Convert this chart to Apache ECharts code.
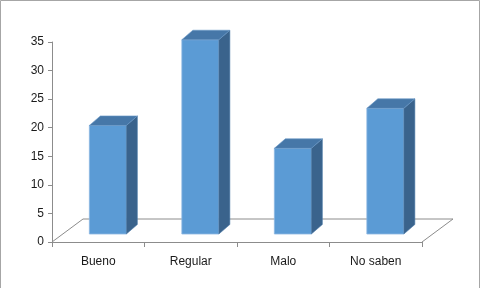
<!DOCTYPE html>
<html>
<head>
<meta charset="utf-8">
<script src="https://cdn.jsdelivr.net/npm/echarts@6/dist/echarts.min.js"></script>
<style>
html,body{margin:0;padding:0;background:#fff;}
#chart{width:481px;height:288px;}
</style>
</head>
<body>
<div id="chart"></div>
<script>
const categories = ['Bueno', 'Regular', 'Malo', 'No saben'];
const values = [19, 34, 15, 22];
const yTicks = { min: 0, max: 35, interval: 5 };

const chart = echarts.init(document.getElementById('chart'), null, { renderer: 'canvas' });

// 3D projection constants (pixels)
const FLOOR_DX = 31, FLOOR_DY = -23;
const BAR_OX = 9.6, BAR_OY = -8;
const BAR_DX = 11, BAR_DY = -9.5;
const BAR_FRAC = 0.4;

const barData = values.map((v, i) => [i, v]);

function renderBar(params, api) {
  const cat = api.value(0), val = api.value(1);
  const base = api.coord([cat, 0]);
  const top = api.coord([cat, val]);
  const bw = api.size([1, 0])[0] * BAR_FRAC;
  const x0 = base[0] - bw / 2 + BAR_OX, x1 = x0 + bw;
  const yb = base[1] + BAR_OY, yt = top[1] + BAR_OY;
  return {
    type: 'group',
    children: [
      { type: 'rect', shape: { x: x0, y: yt, width: bw, height: yb - yt },
        style: { fill: '#5B9BD5', stroke: '#8DB8E2', lineWidth: 0.8 } },
      { type: 'polygon', shape: { points: [[x1, yt], [x1 + BAR_DX, yt + BAR_DY], [x1 + BAR_DX, yb + BAR_DY], [x1, yb]] },
        style: { fill: '#3A638C', stroke: '#4A78A8', lineWidth: 0.6 } },
      { type: 'polygon', shape: { points: [[x0, yt], [x0 + BAR_DX, yt + BAR_DY], [x1 + BAR_DX, yt + BAR_DY], [x1, yt]] },
        style: { fill: '#4677A8', stroke: '#6A98C8', lineWidth: 0.6 } }
    ]
  };
}

function renderFloor(params, api) {
  const cs = params.coordSys;
  const xl = cs.x, xr = cs.x + cs.width, yb = cs.y + cs.height;
  return {
    type: 'polyline',
    shape: { points: [[xl, yb], [xl + FLOOR_DX, yb + FLOOR_DY], [xr + FLOOR_DX, yb + FLOOR_DY], [xr, yb]] },
    style: { fill: null, stroke: '#8C8C8C', lineWidth: 1 },
    silent: true
  };
}

chart.setOption({
  animation: false,
  backgroundColor: '#ffffff',
  graphic: [{
    type: 'rect', shape: { x: 0.5, y: 0.5, width: 479, height: 300 },
    style: { fill: null, stroke: '#A6A6A6', lineWidth: 1 }, z: 100, silent: true
  }],
  grid: { left: 52, right: 59, top: 42, bottom: 46, containLabel: false },
  xAxis: {
    type: 'category',
    data: categories,
    boundaryGap: true,
    axisLine: { show: true, lineStyle: { color: '#8C8C8C', width: 1 } },
    axisTick: { show: true, length: 5, lineStyle: { color: '#8C8C8C' } },
    axisLabel: { color: '#1a1a1a', fontFamily: 'Liberation Sans', fontSize: 12, margin: 14 },
    splitLine: { show: false }
  },
  yAxis: {
    type: 'value',
    min: yTicks.min, max: yTicks.max, interval: yTicks.interval,
    axisLine: { show: true, lineStyle: { color: '#8C8C8C', width: 1 } },
    axisTick: { show: true, length: 4, lineStyle: { color: '#8C8C8C' } },
    axisLabel: { color: '#1a1a1a', fontFamily: 'Liberation Sans', fontSize: 12, margin: 8 },
    splitLine: { show: false }
  },
  series: [
    { type: 'custom', renderItem: renderFloor, data: [[0, 0]], z: 1, silent: true },
    { type: 'custom', renderItem: renderBar, data: barData, encode: { x: 0, y: 1 }, z: 2 }
  ]
});
</script>
</body>
</html>
